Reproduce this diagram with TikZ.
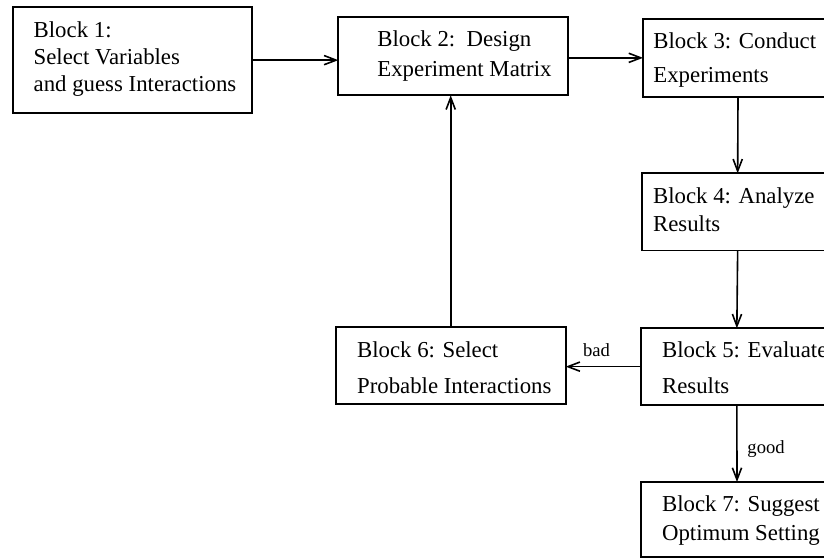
\documentclass[tikz,border=0pt]{standalone}
\usepackage{fontspec}
\setmainfont{Liberation Serif}
\usetikzlibrary{arrows.meta}
\begin{document}
\begin{tikzpicture}[x=0.5pt,y=-0.5pt,
  box/.style={draw, line width=0.85pt, anchor=north west, inner sep=0pt, outer sep=0pt},
  txt/.style={anchor=base west, inner sep=0pt, align=left},
  arr/.style={line width=0.8pt, -{Straight Barb[length=6pt,width=4.6pt,line width=0.8pt]}},
  lab/.style={inner sep=0pt, font=\fontsize{9.3pt}{11pt}\selectfont}]
\useasboundingbox (0,0) rectangle (824,560);
\clip (0,0) rectangle (824,560);
% boxes
\node[box, minimum width=119.5pt, minimum height=52.85pt] (b1) at (12.7,7.3) {};
\node[box, minimum width=114.85pt, minimum height=39pt] (b2) at (338.3,17.3) {};
\node[box, minimum width=95pt, minimum height=38.85pt] (b3) at (643,19) {};
\node[box, minimum width=95.35pt, minimum height=38.6pt] (b4) at (642.3,173.3) {};
\node[box, minimum width=96.15pt, minimum height=38.35pt] (b5) at (640.7,328.3) {};
\node[box, minimum width=115pt, minimum height=38.5pt] (b6) at (335.7,327.3) {};
\node[box, minimum width=96pt, minimum height=37.5pt] (b7) at (641,482) {};
% texts (anchored at the baseline of the last line)
\node[txt, font=\fontsize{11.4pt}{13.6pt}\selectfont] (t1) at (33.3,91.7) {Block 1:\\Select Variables\\and guess Interactions};
\node[txt, font=\fontsize{11.4pt}{15pt}\selectfont] (t2) at (377,76.7) {Block 2:\ \ Design\\Experiment Matrix};
\node[txt, font=\fontsize{11.4pt}{17.35pt}\selectfont] (t3) at (653,83) {Block 3: Conduct\\Experiments};
\node[txt, font=\fontsize{11.4pt}{14.2pt}\selectfont] (t4) at (652.7,231.7) {Block 4: Analyze\\Results};
\node[txt, font=\fontsize{11.4pt}{18.35pt}\selectfont] (t5) at (661.7,394) {Block 5: Evaluate\\Results};
\node[txt, font=\fontsize{11.4pt}{18.35pt}\selectfont] (t6) at (356.7,394) {Block 6: Select\\Probable Interactions};
\node[txt, font=\fontsize{11.4pt}{14.15pt}\selectfont] (t7) at (661.7,540) {Block 7: Suggest\\Optimum Setting};
% connectors
\draw[arr] (b1.east) -- (b1.east -| b2.west);
\draw[arr] (b2.east |- b3.west) -- (b3.west);
\draw[arr] (b3.south) -- (b4.north);
\draw[arr] (b4.south) -- (b5.north);
\draw[arr] (b5.west) -- node[lab, pos=0.59, anchor=base, yshift=5.2pt] (lbad) {bad} (b5.west -| b6.east);
\draw[arr] (b6.north) -- (b6.north |- b2.south);
\draw[arr] (b5.south) -- node[lab, pos=0.627, anchor=base west, xshift=4.85pt] (lgood) {good} (b7.north);
\end{tikzpicture}
\end{document}
